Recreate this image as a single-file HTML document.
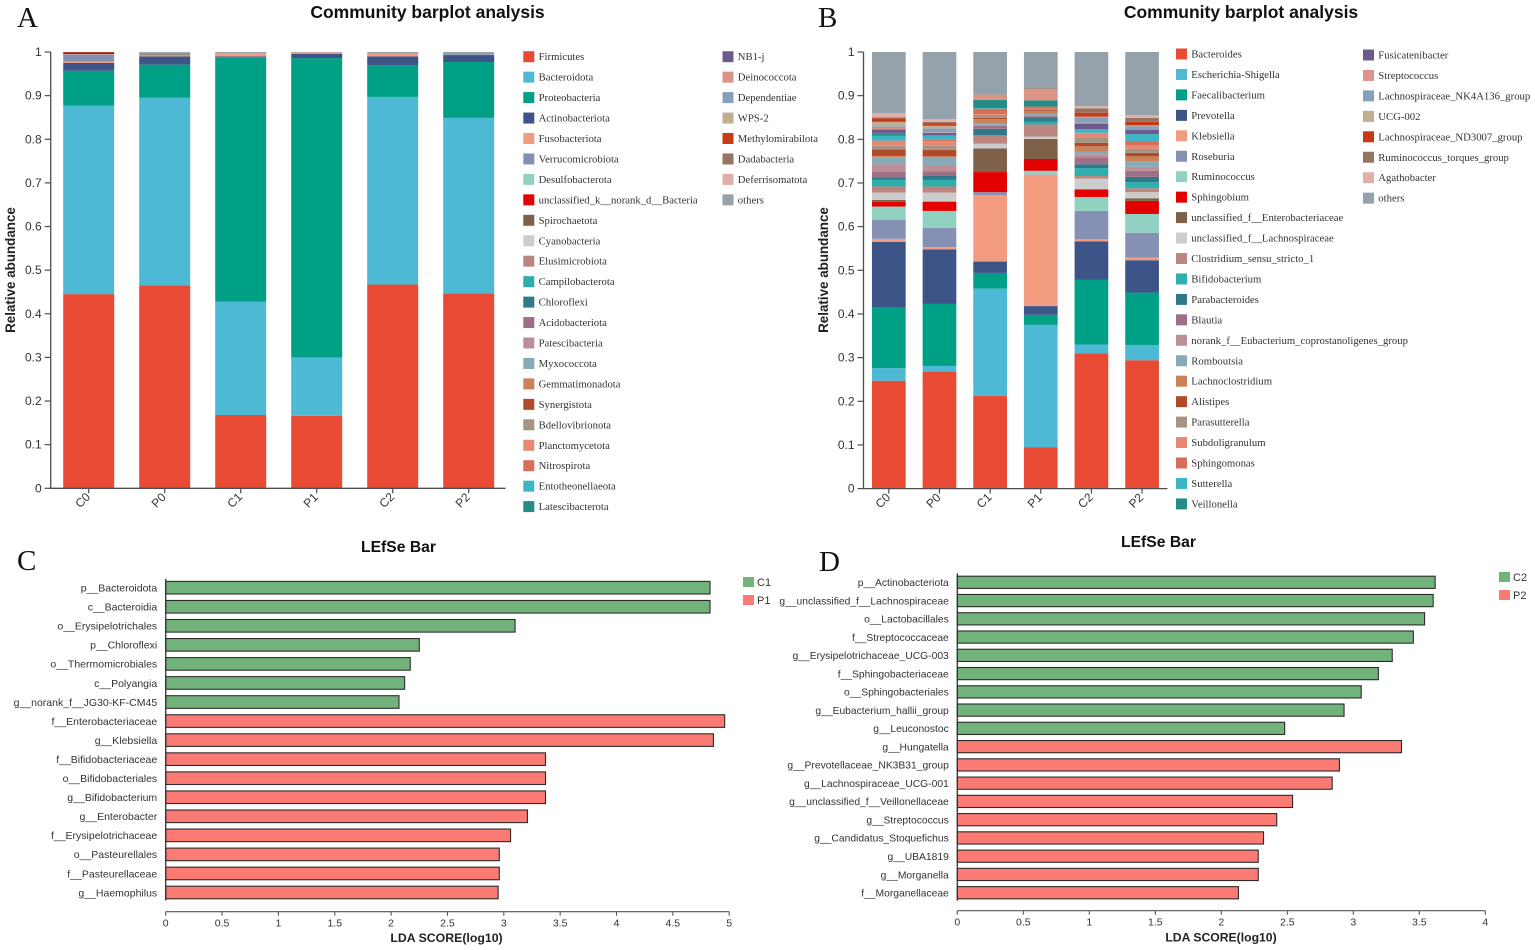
<!DOCTYPE html>
<html lang="en">
<head>
<meta charset="utf-8">
<title>Community barplot and LEfSe analysis</title>
<style>
html,body{margin:0;padding:0;background:#fff;width:1535px;height:950px;overflow:hidden}
svg{display:block}
text{font-family:"Liberation Sans",sans-serif;fill:#333}
.serif{font-family:"Liberation Serif",serif}
.title{font-weight:700;fill:#111}
.axis-title{font-weight:700;fill:#222}
.letter{font-family:"Liberation Serif",serif;font-size:29px;fill:#111}
</style>
</head>
<body>
<svg id="figure" xmlns="http://www.w3.org/2000/svg" width="1535" height="950" viewBox="0 0 1535 950">
  <text class="letter" x="17" y="27">A</text>
  <text class="letter" x="818" y="27">B</text>
  <text class="letter" x="17" y="570">C</text>
  <text class="letter" x="819" y="571">D</text>
  <text class="title" x="427.5" y="18" font-size="17.5" text-anchor="middle">Community barplot analysis</text>
  <text class="title" x="1241" y="18" font-size="17.5" text-anchor="middle">Community barplot analysis</text>
  <text class="title" x="398.5" y="552" font-size="15.7" text-anchor="middle">LEfSe Bar</text>
  <text class="title" x="1158.5" y="547" font-size="15.7" text-anchor="middle">LEfSe Bar</text>
  <text class="axis-title" transform="translate(15,270) rotate(-90)" font-size="13.4" text-anchor="middle">Relative abundance</text>
  <text class="axis-title" transform="translate(828,270) rotate(-90)" font-size="13.4" text-anchor="middle">Relative abundance</text>
  <text class="axis-title" x="446.5" y="942" font-size="12.3" text-anchor="middle">LDA SCORE(log10)</text>
  <text class="axis-title" x="1221" y="941.5" font-size="12.2" text-anchor="middle">LDA SCORE(log10)</text>
  <g id="panel-a"></g>
  <g id="panel-b"></g>
  <g id="panel-c"></g>
  <g id="panel-d"></g>
</svg>
<script>
// ---------- shared data ----------
const sampleNames = ['C0', 'P0', 'C1', 'P1', 'C2', 'P2'];
const stackTicks = ['0', '0.1', '0.2', '0.3', '0.4', '0.5', '0.6', '0.7', '0.8', '0.9', '1'];
const palette = ['#E84A33', '#4DB9D5', '#00A086', '#3C5488', '#F39B7F', '#8491B4', '#91D1C2', '#E30000', '#7E6148', '#CCCCCC', '#BC8680', '#2FAEAE', '#2F7A8A', '#9E6F87', '#BC8F98', '#87AAB8', '#CC8259', '#AF4A2A', '#A69483', '#E58975', '#D86E58', '#3CB5C4', '#238C85', '#6C5B8C', '#DC9488', '#84A0BA', '#BFAE90', '#C93817', '#947563', '#DFB0A8', '#95A2AC'];

// ---------- panel A: relative abundance (per mille), phylum ----------
const taxaA = ['Firmicutes', 'Bacteroidota', 'Proteobacteria', 'Actinobacteriota', 'Fusobacteriota', 'Verrucomicrobiota', 'Desulfobacterota', 'unclassified_k__norank_d__Bacteria', 'Spirochaetota', 'Cyanobacteria', 'Elusimicrobiota', 'Campilobacterota', 'Chloroflexi', 'Acidobacteriota', 'Patescibacteria', 'Myxococcota', 'Gemmatimonadota', 'Synergistota', 'Bdellovibrionota', 'Planctomycetota', 'Nitrospirota', 'Entotheonellaeota', 'Latescibacterota', 'NB1-j', 'Deinococcota', 'Dependentiae', 'WPS-2', 'Methylomirabilota', 'Dadabacteria', 'Deferrisomatota', 'others'];
const phylumC0 = [445, 432, 80, 18, 3, 16, 1, 4, 1, 0, 0, 0, 0, 0, 0, 0, 0, 0, 0, 0, 0, 0, 0, 0, 0, 0, 0, 0, 0, 0, 0];
const phylumP0 = [465, 430, 76, 19, 2, 1, 1, 0, 3, 1, 0, 0, 0, 0, 0, 0, 0, 0, 0, 0, 0, 0, 0, 0, 0, 0, 0, 0, 0, 0, 2];
const phylumC1 = [168, 260, 560, 2, 7, 0, 0, 0, 0, 0, 0, 0, 0, 0, 0, 0, 0, 0, 0, 0, 0, 0, 0, 0, 0, 0, 0, 0, 0, 0, 3];
const phylumP1 = [166, 134, 686, 10, 3, 0, 0, 0, 0, 0, 0, 0, 0, 0, 0, 0, 0, 0, 0, 0, 0, 0, 0, 0, 0, 0, 0, 0, 0, 0, 1];
const phylumC2 = [467, 430, 73, 20, 6, 0, 0, 0, 0, 0, 0, 0, 0, 0, 0, 0, 0, 0, 0, 0, 0, 0, 0, 0, 0, 0, 0, 0, 0, 0, 4];
const phylumP2 = [447, 402, 128, 16, 0, 0, 0, 0, 0, 0, 0, 0, 0, 0, 0, 0, 0, 0, 0, 0, 0, 0, 0, 0, 0, 0, 0, 0, 0, 0, 7];

// ---------- panel B: relative abundance (per mille), genus ----------
const taxaB = ['Bacteroides', 'Escherichia-Shigella', 'Faecalibacterium', 'Prevotella', 'Klebsiella', 'Roseburia', 'Ruminococcus', 'Sphingobium', 'unclassified_f__Enterobacteriaceae', 'unclassified_f__Lachnospiraceae', 'Clostridium_sensu_stricto_1', 'Bifidobacterium', 'Parabacteroides', 'Blautia', 'norank_f__Eubacterium_coprostanoligenes_group', 'Romboutsia', 'Lachnoclostridium', 'Alistipes', 'Parasutterella', 'Subdoligranulum', 'Sphingomonas', 'Sutterella', 'Veillonella', 'Fusicatenibacter', 'Streptococcus', 'Lachnospiraceae_NK4A136_group', 'UCG-002', 'Lachnospiraceae_ND3007_group', 'Ruminococcus_torques_group', 'Agathobacter', 'others'];
const genusC0 = [247, 29, 139, 150, 7, 44, 30, 11, 4, 17, 14, 15, 6, 13, 17, 16, 3, 15, 8, 11, 1, 11, 6, 9, 3, 4, 10, 8, 2, 10, 140];
const genusP0 = [268, 13, 142, 125, 5, 44, 39, 21, 1, 20, 14, 15, 9, 11, 13, 18, 3, 15, 9, 11, 3, 9, 1, 6, 1, 9, 6, 6, 3, 6, 154];
const genusC1 = [212, 246, 36, 26, 152, 7, 0, 46, 54, 11, 18, 1, 15, 7, 2, 3, 10, 3, 7, 2, 12, 1, 19, 0, 12, 0, 0, 0, 1, 0, 97];
const genusP1 = [95, 280, 23, 20, 301, 1, 8, 27, 46, 5, 28, 6, 10, 3, 3, 2, 7, 2, 3, 0, 5, 0, 14, 0, 26, 0, 0, 0, 2, 0, 83];
const genusC2 = [310, 20, 148, 88, 5, 65, 32, 16, 2, 24, 6, 18, 9, 16, 7, 6, 12, 8, 12, 10, 1, 8, 0, 13, 2, 12, 2, 9, 10, 5, 124];
const genusP2 = [294, 35, 120, 74, 6, 57, 43, 30, 6, 14, 9, 14, 12, 14, 9, 13, 11, 8, 9, 9, 9, 16, 0, 10, 0, 8, 2, 8, 9, 6, 145];

// ---------- panel C: LEfSe C1 vs P1 ----------
const featuresC = ['p__Bacteroidota', 'c__Bacteroidia', 'o__Erysipelotrichales', 'p__Chloroflexi', 'o__Thermomicrobiales', 'c__Polyangia', 'g__norank_f__JG30-KF-CM45', 'f__Enterobacteriaceae', 'g__Klebsiella', 'f__Bifidobacteriaceae', 'o__Bifidobacteriales', 'g__Bifidobacterium', 'g__Enterobacter', 'f__Erysipelotrichaceae', 'o__Pasteurellales', 'f__Pasteurellaceae', 'g__Haemophilus'];
const scoresC = [4.83, 4.83, 3.10, 2.25, 2.17, 2.12, 2.07, 4.96, 4.86, 3.37, 3.37, 3.37, 3.21, 3.06, 2.96, 2.96, 2.95];
const groupsC = ['C1', 'C1', 'C1', 'C1', 'C1', 'C1', 'C1', 'P1', 'P1', 'P1', 'P1', 'P1', 'P1', 'P1', 'P1', 'P1', 'P1'];
const ticksC = ['0', '0.5', '1', '1.5', '2', '2.5', '3', '3.5', '4', '4.5', '5'];
const legendC = ['C1', 'P1'];

// ---------- panel D: LEfSe C2 vs P2 ----------
const featuresD = ['p__Actinobacteriota', 'g__unclassified_f__Lachnospiraceae', 'o__Lactobacillales', 'f__Streptococcaceae', 'g__Erysipelotrichaceae_UCG-003', 'f__Sphingobacteriaceae', 'o__Sphingobacteriales', 'g__Eubacterium_hallii_group', 'g__Leuconostoc', 'g__Hungatella', 'g__Prevotellaceae_NK3B31_group', 'g__Lachnospiraceae_UCG-001', 'g__unclassified_f__Veillonellaceae', 'g__Streptococcus', 'g__Candidatus_Stoquefichus', 'g__UBA1819', 'g__Morganella', 'f__Morganellaceae'];
const scoresD = [3.62, 3.605, 3.54, 3.455, 3.295, 3.19, 3.06, 2.93, 2.48, 3.365, 2.895, 2.84, 2.54, 2.42, 2.32, 2.28, 2.28, 2.13];
const groupsD = ['C2', 'C2', 'C2', 'C2', 'C2', 'C2', 'C2', 'C2', 'C2', 'P2', 'P2', 'P2', 'P2', 'P2', 'P2', 'P2', 'P2', 'P2'];
const ticksD = ['0', '0.5', '1', '1.5', '2', '2.5', '3', '3.5', '4'];
const legendD = ['C2', 'P2'];

// ---------- drawing ----------
const NS = 'http://www.w3.org/2000/svg';
function make(parent, tag, props, text) {
  const el = document.createElementNS(NS, tag);
  for (const k in props) el.setAttribute(k, props[k]);
  if (text !== undefined) el.textContent = text;
  parent.appendChild(el);
  return el;
}

function drawStack(target, samples, taxa, frame, legendFrame) {
  const yScale = v => frame.y0 + (frame.y1 - frame.y0) * v;
  const xBand = i => frame.left + frame.step * (i + 0.5);
  samples.forEach((values, i) => {
    let sum = 0;
    const total = 1000;
    values.forEach((v, s) => {
      if (v <= 0) return;
      const top = yScale((sum + v) / total);
      const bottom = yScale(sum / total);
      const seg = make(target, 'rect', { x: xBand(i) - frame.barWidth / 2, y: top, width: frame.barWidth, height: bottom - top, fill: palette[s] });
      
      
      sum += v;
    });
  });
  const axisY = make(target, 'line', { x1: frame.left, x2: frame.left, y1: frame.y1, y2: frame.y0, stroke: '#4d4d4d', 'stroke-width': 1.3 });
  
  
  const axisX = make(target, 'line', { x1: frame.left - 0.6, x2: frame.right, y1: frame.y0, y2: frame.y0, stroke: '#4d4d4d', 'stroke-width': 1.3 });
  
  
  stackTicks.forEach(t => {
    const y = yScale(parseFloat(t));
    const tick = make(target, 'line', { x1: frame.left - 6, x2: frame.left, y1: y, y2: y, stroke: '#4d4d4d', 'stroke-width': 1.2 });
    
    
    const lab = make(target, 'text', { x: frame.left - 9, y: y + 4, 'font-size': 12, 'text-anchor': 'end' }, t);
    
    
  });
  sampleNames.forEach((name, i) => {
    const x = xBand(i);
    const tick = make(target, 'line', { x1: x, x2: x, y1: frame.y0, y2: frame.y0 + 5, stroke: '#4d4d4d', 'stroke-width': 1.2 });
    
    
    const lab = make(target, 'text', { transform: 'translate(' + (x - 6) + ',' + (frame.y0 + 12) + ') rotate(-45)', y: 4, 'font-size': 12, 'text-anchor': 'middle' }, name);
    
    
  });
  taxa.forEach((name, i) => {
    const col2 = i >= legendFrame.rows;
    const row = col2 ? i - legendFrame.rows : i;
    const sx = col2 ? legendFrame.x2 : legendFrame.x1;
    const cy = (col2 ? legendFrame.y2 : legendFrame.y1) + row * legendFrame.rowStep;
    const sw = make(target, 'rect', { x: sx, y: cy - 5.5, width: 11, height: 11, fill: palette[i] });
    
    
    const lab = make(target, 'text', { class: 'serif', x: sx + 15.3, y: cy + 3.5, 'font-size': 10.7 }, name);
    
    
  });
}

function drawLefse(target, features, scores, groups, ticks, legend, frame) {
  const xScale = v => frame.x0 + frame.unit * v;
  const yBand = i => frame.yStart + frame.yStep * i;
  features.forEach((name, i) => {
    const colour = groups[i] === legend[0] ? '#72B37B' : '#FB7A74';
    const bar = make(target, 'rect', { x: frame.x0, y: yBand(i) - frame.barH / 2, width: xScale(scores[i]) - frame.x0, height: frame.barH, fill: colour, stroke: '#2b2b2b', 'stroke-width': 1.1 });
    
    
    const lab = make(target, 'text', { x: frame.x0 - 8.5, y: yBand(i) + 3.8, 'font-size': frame.labelSize, 'text-anchor': 'end' }, name);
    
    
  });
  const axisY = make(target, 'line', { x1: frame.x0, x2: frame.x0, y1: yBand(0) - 9, y2: yBand(features.length - 1) + 8, stroke: '#333', 'stroke-width': 1.3 });
  
  
  const lastTick = parseFloat(ticks[ticks.length - 1]);
  const axisX = make(target, 'line', { x1: frame.x0, x2: xScale(lastTick), y1: frame.axisY, y2: frame.axisY, stroke: '#555', 'stroke-width': 1.2 });
  
  
  ticks.forEach(t => {
    const x = xScale(parseFloat(t));
    const tick = make(target, 'line', { x1: x, x2: x, y1: frame.axisY, y2: frame.axisY + 4, stroke: '#555', 'stroke-width': 1.1 });
    
    
    const lab = make(target, 'text', { x: x, y: frame.axisY + 15, 'font-size': 10.5, 'text-anchor': 'middle' }, t);
    
    
  });
  legend.forEach((name, i) => {
    const cy = frame.legendY + i * 18;
    const sw = make(target, 'rect', { x: frame.legendX, y: cy - 5, width: 11, height: 10, fill: i === 0 ? '#72B37B' : '#FB7A74' });
    
    
    const lab = make(target, 'text', { x: frame.legendX + 14, y: cy + 4, 'font-size': 11 }, name);
    
    
  });
}

drawStack(document.getElementById('panel-a'),
  [phylumC0, phylumP0, phylumC1, phylumP1, phylumC2, phylumP2], taxaA,
  { left: 50.7, right: 505.5, step: 76, barWidth: 51, y0: 488.3, y1: 52 },
  { rows: 23, x1: 523.3, x2: 722.5, y1: 56.7, y2: 56.7, rowStep: 20.45 });

drawStack(document.getElementById('panel-b'),
  [genusC0, genusP0, genusC1, genusP1, genusC2, genusP2], taxaB,
  { left: 863.5, right: 1167.4, step: 50.65, barWidth: 33.7, y0: 488.6, y1: 52 },
  { rows: 23, x1: 1176, x2: 1363, y1: 54, y2: 55, rowStep: 20.45 });

drawLefse(document.getElementById('panel-c'), featuresC, scoresC, groupsC, ticksC, legendC,
  { x0: 165.7, unit: 112.7, yStart: 587.7, yStep: 19.05, barH: 12.6, axisY: 911.7, legendX: 743, legendY: 582, labelSize: 10.5 });

drawLefse(document.getElementById('panel-d'), featuresD, scoresD, groupsD, ticksD, legendD,
  { x0: 957.3, unit: 132, yStart: 582.3, yStep: 18.26, barH: 12.2, axisY: 910.7, legendX: 1499, legendY: 577, labelSize: 10.3 });
</script>
</body>
</html>
